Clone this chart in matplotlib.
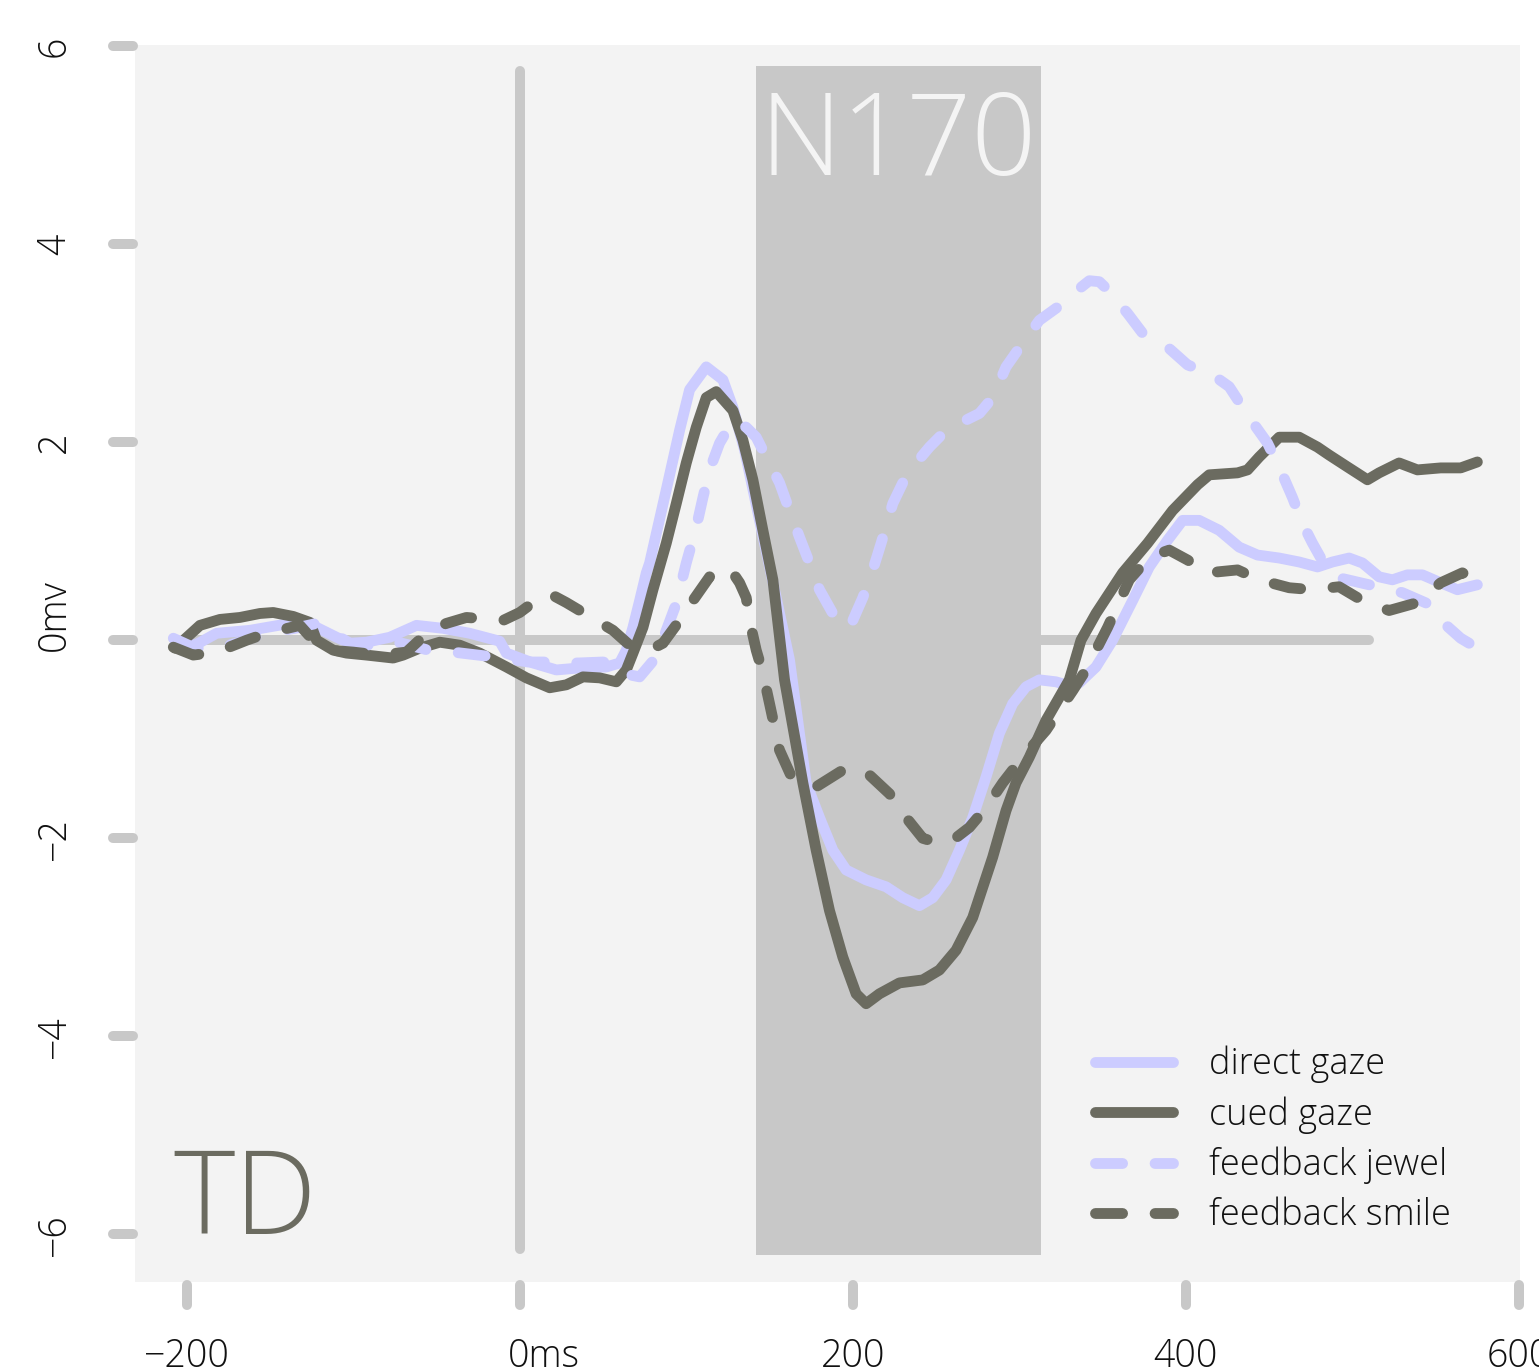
import matplotlib
matplotlib.use("Agg")
import matplotlib.pyplot as plt
import matplotlib.transforms as mtransforms

plt.rcParams['font.family'] = ['Open Sans', 'Lato', 'DejaVu Sans']
plt.rcParams['font.weight'] = 'light'

# ERP waveforms (ms, microvolts)
direct_t = [-207, -195, -182, -162, -138, -122, -110, -102, -92, -78, -62, -46, -30, -12, -8,
            8, 22, 36, 52, 60, 64, 68, 72, 76, 78, 88, 96, 102, 112, 122, 128, 135, 144, 153, 162,
            172, 180, 188, 196, 208, 220, 230, 240, 248, 256, 264, 272, 280, 288, 296, 304, 312,
            322, 332, 336, 346, 356, 368, 378, 389, 398, 408, 420, 432, 443, 456, 468, 479, 488,
            498, 506, 516, 524, 533, 542, 553, 563, 575]
direct_v = [0.0, -0.05, 0.07, 0.10, 0.17, 0.13, 0.03, -0.03, -0.02, 0.03, 0.15, 0.12, 0.07, -0.01, -0.13,
            -0.23, -0.30, -0.28, -0.27, -0.23, -0.10, 0.13, 0.40, 0.68, 0.78, 1.52, 2.12, 2.53, 2.76, 2.63, 2.35, 1.92, 1.21, 0.51, -0.20,
            -1.44, -1.79, -2.12, -2.32, -2.42, -2.49, -2.60, -2.68, -2.60, -2.42, -2.12, -1.79, -1.38, -0.94, -0.64, -0.47, -0.40,
            -0.42, -0.47, -0.43, -0.27, 0.0, 0.40, 0.74, 1.01, 1.21, 1.21, 1.11, 0.94, 0.86, 0.83, 0.79, 0.74, 0.79,
            0.83, 0.78, 0.64, 0.61, 0.66, 0.66, 0.58, 0.51, 0.56]

cued_t = [-207, -192, -180, -168, -156, -148, -136, -126, -122, -112, -104, -92, -76, -70, -60, -48,
          -36, -24, -8, 4, 18, 28, 38, 48, 58, 64, 68, 74, 80, 88, 94, 100, 106, 112, 118, 128, 134,
          140, 146, 152, 159, 170, 178, 186, 194, 202, 208, 216, 228, 242, 252, 262, 272, 284, 292,
          298, 306, 316, 330, 337, 346, 362, 377, 392, 407, 414, 431, 437, 444, 456, 468, 479, 486,
          497, 509, 516, 528, 539, 553, 565, 575]
cued_v = [-0.08, 0.15, 0.21, 0.23, 0.27, 0.28, 0.24, 0.18, 0.0, -0.10, -0.13, -0.15, -0.18, -0.15, -0.08, -0.02,
          -0.05, -0.13, -0.27, -0.38, -0.48, -0.45, -0.37, -0.38, -0.42, -0.30, -0.13, 0.13, 0.51, 0.98, 1.38, 1.79, 2.15, 2.45, 2.51, 2.32, 2.02,
          1.62, 1.11, 0.61, -0.40, -1.44, -2.12, -2.73, -3.20, -3.57, -3.67, -3.57, -3.46, -3.43, -3.33, -3.13, -2.80, -2.19, -1.72,
          -1.44, -1.18, -0.81, -0.40, 0.0, 0.27, 0.68, 0.98, 1.31, 1.57, 1.67, 1.69, 1.72, 1.85, 2.05, 2.05, 1.95, 1.87,
          1.75, 1.62, 1.69, 1.79, 1.72, 1.74, 1.74, 1.80]

jewel_t = [-208, -195, -180, -165, -150, -135, -122, -102, -90, -78, -66, -55, -40, -25, -10, 5, 20, 35,
           50, 60, 66, 72, 82, 94, 100, 106, 110, 114, 120, 128, 136, 142, 148, 156, 162, 168, 174,
           180, 188, 194, 200, 206, 212, 217, 224, 230, 238, 246, 256, 264, 276, 284, 292, 302, 312,
           326, 336, 342, 348, 353, 365, 374, 389, 401, 416, 426, 438, 449, 456, 464, 470, 476, 485, 492, 510,
           530, 545, 553, 565, 575]
jewel_v = [0.02, -0.08, -0.08, 0.0, 0.08, 0.12, 0.17, -0.03, -0.05, 0.0, -0.05, -0.10, -0.12, -0.15, -0.18, -0.22, -0.22, -0.23,
           -0.22, -0.25, -0.35, -0.37, -0.17, 0.37, 0.78, 1.14, 1.44, 1.72, 1.99, 2.22, 2.15, 2.05, 1.85, 1.59, 1.31, 1.04, 0.78,
           0.51, 0.27, 0.12, 0.20, 0.43, 0.71, 0.98, 1.38, 1.59, 1.79, 1.95, 2.12, 2.19, 2.29, 2.45, 2.76, 3.00, 3.23,
           3.40, 3.55, 3.63, 3.62, 3.54, 3.30, 3.10, 2.96, 2.78, 2.68, 2.56, 2.25, 1.99, 1.75, 1.44, 1.18, 0.98, 0.71, 0.63, 0.56,
           0.48, 0.37, 0.20, 0.02, -0.08]

smile_t = [-208, -196, -182, -164, -152, -132, -124, -114, -100, -84, -68, -54, -44, -32, -10, 0, 12, 18,
           28, 46, 56, 66, 78, 86, 96, 104, 114, 126, 132, 136, 138, 142, 146, 150, 156, 164, 178, 196,
           208, 222, 232, 242, 252, 260, 270, 280, 290, 302, 316, 332, 340, 353, 366, 378, 390, 401,
           413, 431, 444, 462, 476, 492, 506, 522, 539, 553, 566, 575]
smile_v = [-0.07, -0.15, -0.12, 0.0, 0.07, 0.15, 0.0, -0.10, -0.12, -0.15, -0.12, 0.10, 0.17, 0.23, 0.20, 0.28, 0.43, 0.47,
           0.38, 0.20, 0.10, -0.05, -0.10, -0.03, 0.20, 0.40, 0.64, 0.73, 0.58, 0.43, 0.20, -0.10, -0.33, -0.64, -1.11, -1.41, -1.48, -1.29,
           -1.33, -1.55, -1.79, -2.00, -2.05, -2.02, -1.89, -1.69, -1.44, -1.18, -0.91, -0.51, -0.30, 0.13, 0.61, 0.84, 0.91, 0.81,
           0.68, 0.71, 0.61, 0.53, 0.51, 0.54, 0.40, 0.30, 0.38, 0.58, 0.68, 0.61]

series_labels = ['direct gaze', 'cued gaze', 'feedback jewel', 'feedback smile']

x_ticks = [-200, 0, 200, 400, 600]
x_tick_labels = ['\u2212200', '0ms', '200', '400', '600']
y_ticks = [-6, -4, -2, 0, 2, 4, 6]
y_tick_labels = ['\u22126', '\u22124', '\u22122', '0mv', '2', '4', '6']

n170_window = (142, 313)

light = '#ccccff'
dark = '#6b6b60'
guide = '#c8c8c8'

fig = plt.figure(figsize=(15.39, 13.68), dpi=100)
ax = fig.add_axes([135 / 1539, 86 / 1368, 1385 / 1539, 1237 / 1368])
ax.set_facecolor('#f3f3f3')
for s in ax.spines.values():
    s.set_visible(False)
ax.set_xlim(-231, 600.6)
ax.set_ylim(-6.48, 6.01)

# component window and reference lines
ax.axvspan(n170_window[0], n170_window[1], ymin=(-6.21 + 6.48) / 12.49, ymax=(5.8 + 6.48) / 12.49,
           color=guide, lw=0, zorder=1)
ax.plot([0, 0], [-6.15, 5.75], color=guide, lw=7.2, solid_capstyle='round', zorder=2)
ax.plot([-200, 510], [0, 0], color=guide, lw=7.2, solid_capstyle='round', zorder=2)
ax.text(sum(n170_window) / 2, 4.7, 'N170', color='#f4f4f4', fontsize=82, ha='center', va='baseline',
        zorder=3)
ax.text(-208, -6.0, 'TD', color=dark, fontsize=84, ha='left', va='baseline', zorder=3)

lw = 7.8
dash = (2.5, 3.0)
styles = [
    (direct_t, direct_v, light, None),
    (cued_t, cued_v, dark, None),
    (jewel_t, jewel_v, light, dash),
    (smile_t, smile_v, dark, dash),
]
for (t, v, c, d), lab in zip(styles, series_labels):
    line, = ax.plot(t, v, color=c, lw=lw, label=lab, solid_capstyle='round', dash_capstyle='round',
                    solid_joinstyle='round', dash_joinstyle='round', zorder=4)
    if d is not None:
        line.set_dashes(d)

leg = ax.legend(loc='lower right', bbox_to_anchor=(0.963, 0.024), frameon=False, fontsize=26,
                handlelength=2.15, handletextpad=1.0, labelspacing=0.36, borderpad=0,
                labelcolor='#111111')
for h in leg.legend_handles:
    h.set_solid_capstyle('round')
    h.set_dash_capstyle('round')

# axis ticks drawn as thick rounded strokes
ax.set_xticks(x_ticks)
ax.set_xticklabels(x_tick_labels)
ax.set_yticks(y_ticks)
ax.set_yticklabels(y_tick_labels, rotation=90, va='center')
ax.tick_params(length=0, labelsize=27, labelcolor='#111111')
ax.tick_params(axis='x', pad=40)
ax.tick_params(axis='y', pad=44)
bx = mtransforms.blended_transform_factory(ax.transData, ax.transAxes)
by = mtransforms.blended_transform_factory(ax.transAxes, ax.transData)
for xt in x_ticks:
    ax.plot([xt, xt], [-0.0024, -0.0186], transform=bx, color=guide, lw=7.2,
            solid_capstyle='round', clip_on=False)
for yt in y_ticks:
    ax.plot([-0.0159, -0.0014], [yt, yt], transform=by, color=guide, lw=7.2,
            solid_capstyle='round', clip_on=False)

# unit suffix follows the zero digit
zx = ax.get_xticklabels()[1]
zx.set_transform(zx.get_transform() + mtransforms.ScaledTranslation(24 / 100, 0, fig.dpi_scale_trans))
zy = ax.get_yticklabels()[3]
zy.set_transform(zy.get_transform() + mtransforms.ScaledTranslation(0, 25 / 100, fig.dpi_scale_trans))

fig.savefig('out.png', dpi=100)
